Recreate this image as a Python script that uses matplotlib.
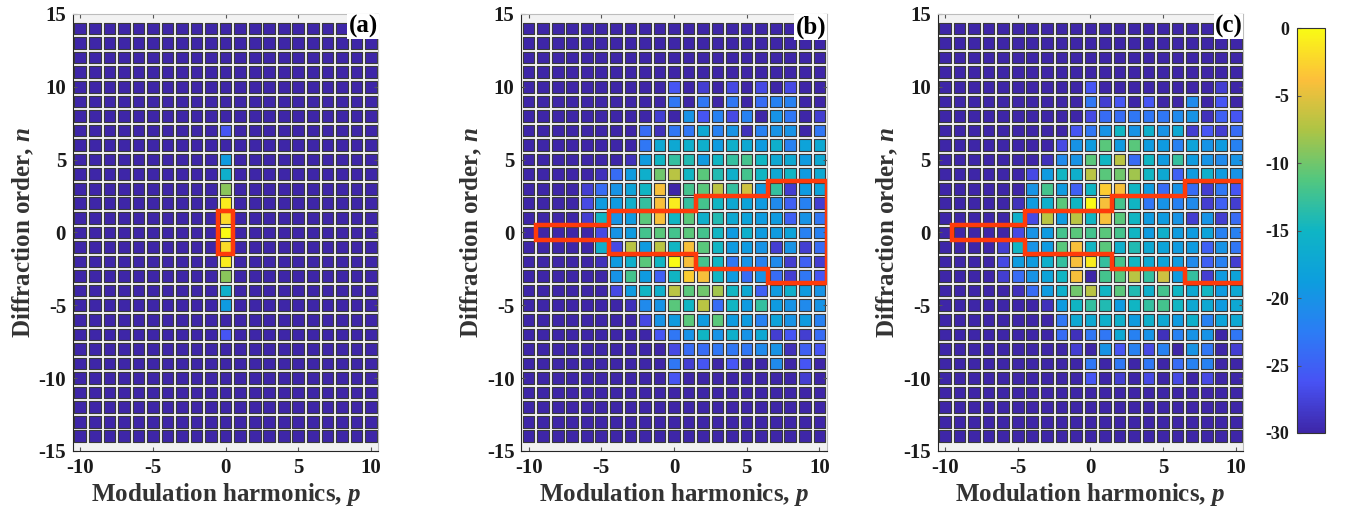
"""
Diffraction-order / modulation-harmonic maps, three panels plus shared colorbar.

Each cell is the power (dB) in diffraction order n and modulation harmonic p.
The red staircase marks the orders collected by the detector window.
"""

import numpy as np
import matplotlib

matplotlib.use("Agg")
import matplotlib.pyplot as plt
from matplotlib.collections import PatchCollection
from matplotlib.colors import LinearSegmentedColormap
from matplotlib.patches import Polygon, Rectangle

FLOOR = -30.0
P = np.arange(-10, 11)           # modulation harmonics (columns)
N = np.arange(14, -15, -1)       # diffraction orders, top row first
N_CORE = np.arange(10, -11, -1)  # rows that rise above the floor in (b), (c)

# panel (a): only the p = 0 column is lit
a_orders = [7, 5, 4, 3, 2, 1, 0, -1, -2, -3, -4, -5, -7]
a_db = [-26, -19, -16, -9, -1, -2, 0, -2, -1, -9, -16, -19, -26]

# panel (b): rows n = 10 ... -10, columns p = -10 ... 10
b_core = [
    [-30, -30, -30, -30, -30, -30, -30, -30, -30, -30, -26, -30, -28, -30, -27, -30, -27, -30, -27, -30, -30],
    [-30, -30, -30, -30, -30, -30, -30, -30, -30, -30, -23, -30, -23, -30, -23, -30, -24, -22, -22, -30, -30],
    [-30, -30, -30, -30, -30, -30, -30, -30, -30, -28, -30, -20, -26, -22, -27, -22, -30, -20, -23, -30, -28],
    [-30, -30, -30, -30, -30, -30, -30, -30, -24, -29, -23, -23, -17, -22, -20, -29, -22, -20, -20, -30, -23],
    [-30, -30, -30, -30, -30, -30, -30, -30, -23, -17, -17, -16, -16, -19, -16, -17, -19, -16, -22, -18, -17],
    [-30, -30, -30, -30, -30, -30, -30, -29, -19, -15, -13, -14, -19, -15, -13, -12, -15, -17, -17, -19, -17],
    [-30, -30, -30, -30, -30, -29, -24, -19, -16, -10, -7, -15, -11, -14, -16, -12, -15, -17, -15, -19, -17],
    [-30, -30, -30, -30, -28, -24, -20, -18, -15, -4, -30, -12, -11, -7, -13, -6, -19, -13, -28, -19, -18],
    [-30, -30, -30, -30, -27, -19, -19, -16, -13, -4, -1, -13, -12, -15, -17, -18, -19, -21, -25, -22, -28],
    [-30, -30, -30, -30, -28, -15, -20, -19, -11, -4, -15, -11, -16, -14, -17, -18, -19, -19, -25, -20, -23],
    [-30, -30, -30, -30, -30, -27, -20, -19, -12, -11, -12, -11, -12, -15, -19, -16, -19, -19, -18, -22, -22],
    [-30, -30, -30, -30, -30, -16, -27, -7, -19, -7, -15, -4, -11, -15, -19, -19, -20, -28, -20, -28, -24],
    [-30, -30, -30, -30, -30, -29, -19, -16, -11, -15, 0, -4, -12, -15, -23, -20, -22, -21, -28, -25, -28],
    [-30, -30, -30, -30, -30, -30, -20, -12, -19, -25, -15, -3, -4, -15, -19, -24, -20, -24, -28, -23, -26],
    [-30, -30, -30, -30, -30, -30, -27, -19, -15, -16, -7, -11, -10, -8, -15, -17, -25, -19, -16, -19, -20],
    [-30, -30, -30, -30, -30, -30, -30, -29, -21, -20, -11, -15, -7, -24, -15, -19, -13, -19, -20, -21, -20],
    [-30, -30, -30, -30, -30, -30, -30, -30, -27, -20, -19, -11, -19, -11, -19, -19, -22, -18, -20, -19, -22],
    [-30, -30, -30, -30, -30, -30, -30, -30, -30, -26, -23, -20, -15, -20, -16, -20, -17, -28, -26, -28, -24],
    [-30, -30, -30, -30, -30, -30, -30, -30, -30, -30, -27, -24, -24, -23, -23, -23, -21, -20, -29, -25, -26],
    [-30, -30, -30, -30, -30, -30, -30, -30, -30, -30, -23, -28, -26, -30, -26, -30, -30, -21, -30, -26, -30],
    [-30, -30, -30, -30, -30, -30, -30, -30, -30, -30, -26, -30, -30, -30, -30, -30, -30, -30, -30, -28, -30],
]

# panel (c): rows n = 10 ... -10, columns p = -10 ... 10
c_core = [
    [-30, -30, -30, -30, -30, -30, -30, -30, -30, -30, -26, -30, -30, -30, -30, -30, -30, -30, -30, -28, -30],
    [-30, -30, -30, -30, -30, -30, -30, -30, -30, -30, -23, -28, -26, -30, -26, -30, -30, -21, -30, -26, -30],
    [-30, -30, -30, -30, -30, -30, -30, -30, -30, -30, -27, -24, -24, -23, -23, -23, -21, -20, -29, -25, -26],
    [-30, -30, -30, -30, -30, -30, -30, -30, -30, -26, -23, -20, -15, -20, -16, -20, -17, -28, -26, -28, -24],
    [-30, -30, -30, -30, -30, -30, -30, -30, -27, -20, -19, -11, -19, -11, -19, -19, -22, -18, -20, -19, -22],
    [-30, -30, -30, -30, -30, -30, -30, -29, -21, -20, -11, -15, -7, -24, -15, -19, -13, -19, -20, -21, -20],
    [-30, -30, -30, -30, -30, -30, -27, -19, -15, -16, -7, -11, -10, -8, -15, -17, -25, -19, -16, -19, -20],
    [-30, -30, -30, -30, -30, -30, -20, -12, -19, -25, -15, -3, -4, -15, -19, -24, -20, -24, -28, -23, -26],
    [-30, -30, -30, -30, -30, -29, -19, -16, -11, -15, 0, -4, -12, -15, -23, -20, -22, -21, -28, -25, -28],
    [-30, -30, -30, -30, -30, -16, -27, -7, -19, -7, -15, -4, -11, -15, -19, -19, -20, -28, -20, -28, -24],
    [-30, -30, -30, -30, -30, -27, -20, -19, -12, -11, -12, -11, -12, -15, -19, -16, -19, -19, -18, -22, -22],
    [-30, -30, -30, -30, -28, -15, -20, -19, -11, -4, -15, -11, -16, -14, -17, -18, -19, -19, -25, -20, -23],
    [-30, -30, -30, -30, -27, -19, -19, -16, -13, -4, -1, -13, -12, -15, -17, -18, -19, -21, -25, -22, -28],
    [-30, -30, -30, -30, -28, -24, -20, -18, -15, -4, -30, -12, -11, -7, -13, -6, -19, -13, -28, -19, -18],
    [-30, -30, -30, -30, -30, -29, -24, -19, -16, -10, -7, -15, -11, -14, -16, -12, -15, -17, -15, -19, -17],
    [-30, -30, -30, -30, -30, -30, -30, -29, -19, -15, -13, -14, -19, -15, -13, -12, -15, -17, -17, -19, -17],
    [-30, -30, -30, -30, -30, -30, -30, -30, -23, -17, -17, -16, -16, -19, -16, -17, -19, -16, -22, -18, -17],
    [-30, -30, -30, -30, -30, -30, -30, -30, -24, -29, -23, -23, -17, -22, -20, -29, -22, -20, -20, -30, -23],
    [-30, -30, -30, -30, -30, -30, -30, -30, -30, -28, -30, -20, -26, -22, -27, -22, -30, -20, -23, -30, -28],
    [-30, -30, -30, -30, -30, -30, -30, -30, -30, -30, -23, -30, -23, -30, -23, -30, -24, -22, -22, -30, -30],
    [-30, -30, -30, -30, -30, -30, -30, -30, -30, -30, -26, -30, -28, -30, -27, -30, -27, -30, -27, -30, -30],
]

# detector window: columns lo..hi collect orders |n| <= half
a_win_lo, a_win_hi, a_win_half = [0], [0], [1]
bc_win_lo, bc_win_hi, bc_win_half = [-9, -4, 2, 7], [-5, 1, 6, 10], [0, 1, 2, 3]

PANEL_TAGS = ["(a)", "(b)", "(c)"]
CBAR_TICKS = [0, -5, -10, -15, -20, -25, -30]

# MATLAB parula, sampled
PARULA = LinearSegmentedColormap.from_list(
    "parula",
    [
        (0.000, (0.2422, 0.1504, 0.6603)),
        (0.125, (0.2810, 0.3228, 0.9579)),
        (0.250, (0.1700, 0.4900, 0.9600)),
        (0.375, (0.0500, 0.6200, 0.8700)),
        (0.500, (0.0600, 0.7100, 0.7700)),
        (0.625, (0.3200, 0.7800, 0.5000)),
        (0.750, (0.6800, 0.7700, 0.2700)),
        (0.875, (0.9900, 0.7500, 0.2300)),
        (1.000, (0.9769, 0.9839, 0.0805)),
    ],
)

CELL = 0.8
OUTLINE_RED = "#ff3a0a"
TEXT_COLOR = "#1a1a1a"
LABEL_COLOR = "#333333"

plt.rcParams["font.family"] = ["Liberation Serif", "DejaVu Serif"]
plt.rcParams["font.weight"] = "bold"
plt.rcParams["axes.labelweight"] = "bold"
plt.rcParams["axes.unicode_minus"] = False
plt.rcParams["mathtext.fontset"] = "custom"
plt.rcParams["mathtext.rm"] = "Liberation Serif:bold"
plt.rcParams["mathtext.it"] = "Liberation Serif:italic"


def build_grid(core_rows):
    grid = np.full((len(N), len(P)), FLOOR)
    top = list(N).index(N_CORE[0])
    grid[top:top + len(N_CORE), :] = np.array(core_rows, dtype=float)
    return grid


def build_grid_a():
    grid = np.full((len(N), len(P)), FLOOR)
    col = list(P).index(0)
    for n, v in zip(a_orders, a_db):
        grid[list(N).index(n), col] = v
    return grid


def window_outline(lo, hi, half):
    top = []
    for l, h, w in zip(lo, hi, half):
        top += [(l - 0.5, w + 0.5), (h + 0.5, w + 0.5)]
    bottom = [(x, -y) for x, y in reversed(top)]
    return top + bottom


def draw_panel(ax, grid, lo, hi, half, tag):
    cells = []
    values = []
    for i, n in enumerate(N):
        for j, p in enumerate(P):
            cells.append(Rectangle((p - CELL / 2, n - CELL / 2), CELL, CELL))
            values.append(max(grid[i, j], FLOOR))
    pc = PatchCollection(cells, cmap=PARULA, edgecolor="#3a3a3a", linewidth=0.8)
    pc.set_array(np.array(values))
    pc.set_clim(FLOOR, 0)
    ax.add_collection(pc)

    ax.add_patch(
        Polygon(window_outline(lo, hi, half), closed=True, fill=False,
                edgecolor=OUTLINE_RED, linewidth=3.2, joinstyle="miter", zorder=3)
    )

    ax.set_facecolor("#f2f2f2")
    ax.set_xlim(-10.5, 10.5)
    ax.set_ylim(-15, 15)
    ax.set_xticks([-10, -5, 0, 5, 10])
    ax.set_yticks([-15, -10, -5, 0, 5, 10, 15])
    ax.tick_params(direction="in", top=True, right=True, length=3,
                   labelsize=15, colors="#555555", labelcolor=TEXT_COLOR, pad=5)
    for side in ("left", "bottom"):
        ax.spines[side].set_color("#262626")
    for side in ("top", "right"):
        ax.spines[side].set_color("#bdbdbd")
    for lab in ax.get_xticklabels() + ax.get_yticklabels():
        lab.set_fontweight("bold")

    ax.set_xlabel(r"Modulation harmonics, $p$", fontsize=18, fontweight="bold",
                  color=LABEL_COLOR, labelpad=2)
    ax.set_ylabel(r"Diffraction order, $n$", fontsize=18, fontweight="bold",
                  color=LABEL_COLOR, labelpad=2)
    ax.text(0.998, 0.997, tag, transform=ax.transAxes, ha="right", va="top",
            fontsize=18, fontweight="bold", color="black", zorder=5,
            bbox=dict(facecolor="white", edgecolor="none", pad=0.8))
    return pc


def main():
    fig = plt.figure(figsize=(13.72, 5.17), dpi=100)
    lefts = [0.0532, 0.3800, 0.6835]
    grids = [build_grid_a(), build_grid(b_core), build_grid(c_core)]
    windows = [
        (a_win_lo, a_win_hi, a_win_half),
        (bc_win_lo, bc_win_hi, bc_win_half),
        (bc_win_lo, bc_win_hi, bc_win_half),
    ]
    pc = None
    for left, grid, win, tag in zip(lefts, grids, windows, PANEL_TAGS):
        ax = fig.add_axes([left, 0.128, 0.2225, 0.845])
        pc = draw_panel(ax, grid, *win, tag)

    cax = fig.add_axes([0.9455, 0.1625, 0.0200, 0.7830])
    cb = fig.colorbar(pc, cax=cax, ticks=CBAR_TICKS)
    cax.yaxis.set_ticks_position("left")
    cax.tick_params(direction="in", length=3, labelsize=13, colors="#555555",
                    labelcolor=TEXT_COLOR, pad=6)
    for lab in cax.get_yticklabels():
        lab.set_fontweight("bold")
    cb.outline.set_edgecolor("#333333")
    cb.outline.set_linewidth(0.8)

    fig.savefig("out.png", dpi=100)
    plt.close(fig)


if __name__ == "__main__":
    main()
